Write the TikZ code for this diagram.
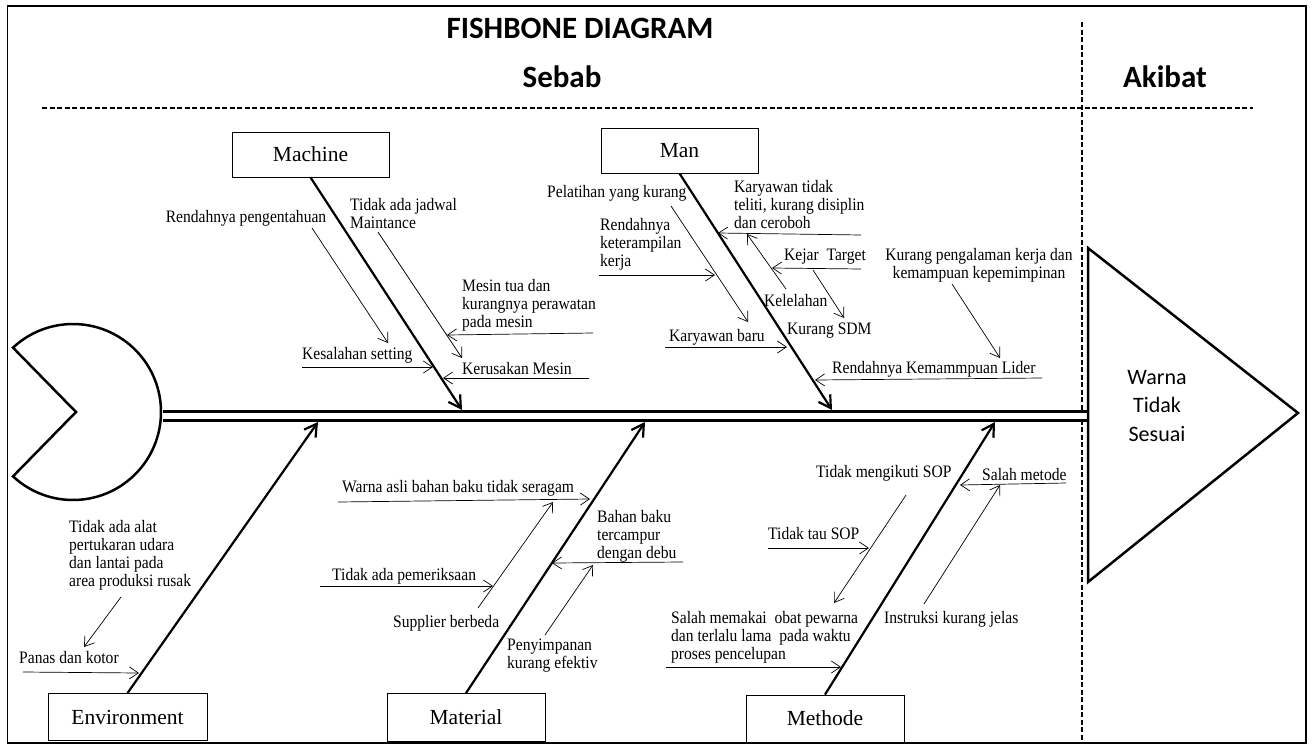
\documentclass[tikz,border=0pt]{standalone}
\usepackage{fontspec}
\setmainfont{Liberation Serif}
\newfontfamily\calibri{Carlito}
\newfontfamily\narrowserif[FakeStretch=0.89]{Liberation Serif}
\usetikzlibrary{arrows.meta, calc}
\usetikzlibrary{positioning}

\begin{document}
\begin{tikzpicture}[x=1pt, y=-1pt,
    box/.style={draw, line width=0.8pt, fill=white, minimum width=157pt, minimum height=46pt, inner sep=0pt, font=\fontsize{21.5}{24}\selectfont},
    bone/.style={line width=2.2pt, -{Straight Barb[length=12pt, width=14pt]}},
    sub/.style={line width=0.7pt, -{Straight Barb[length=9pt, width=12pt]}},
    txt/.style={inner sep=0pt, align=left, font=\narrowserif\fontsize{17.5}{18}\selectfont},
    head/.style={font=\calibri\bfseries\fontsize{31}{36}\selectfont},
    sep/.style={line width=1.4pt, dash pattern=on 5pt off 2.5pt}]
    \useasboundingbox (0,0) rectangle (1312,747);
    \draw[line width=1.8pt] (7,6) -- (1306,6) -- (1306,743) -- (7,743);
    \draw[line width=0.8pt] (7,6) -- (7,743);

    \node[head] (title) at (580,28) {FISHBONE DIAGRAM};
    \node[head] (sebab) at (562,77) {Sebab};
    \node[head] (akibat) at (1165,77) {Akibat};
    \draw[sep] (42,108) -- (1253,108);
    \draw[sep] (1082,22) -- (1082,742);

    % head, spine and tail
    \coordinate (pac) at (73,412);
    \draw[line width=2.5pt, fill=white] ($(pac)+(-133:88)$) -- (76,412) -- ($(pac)+(133:88)$) arc[start angle=133, end angle=-133, radius=88] -- cycle;
    \coordinate (spine1) at (162.5,415.5);
    \coordinate (spine2) at (1087,415.5);
    \draw[line width=3pt, double distance=6pt] (spine1) -- (spine2);
    \draw[line width=2.5pt, fill=white] (1088,248) -- (1298,413) -- (1088,582) -- cycle;
    \node[align=center, font=\calibri\fontsize{22}{28.5}\selectfont] (effect) at (1157,406) {Warna\\Tidak\\Sesuai};

    % main bones
    \node[box, minimum height=45pt] (machine) at (310.5,154.5) {Machine};
    \node[box, minimum height=45pt] (man) at (679.5,150.5) {Man};
    \node[box, minimum width=159pt, minimum height=47pt] (env) at (127.5,717) {Environment};
    \node[box, minimum width=158pt, minimum height=48pt] (material) at (466,717.5) {Material};
    \node[box, minimum width=158pt, minimum height=47pt] (methode) at (825,718.5) {Methode};
    \coordinate (mtip) at (462,410);
    \coordinate (ntip) at (832,410);
    \coordinate (etip) at (318,422);
    \coordinate (ltip) at (645,422);
    \coordinate (dtip) at (995,422);
    \draw[bone] (machine.south) -- (mtip);
    \draw[bone] (man.south) -- (ntip);
    \draw[bone] (env.north) -- (etip);
    \draw[bone] (material.north) -- (ltip);
    \draw[bone] (methode.north) -- (dtip);

    % Machine
    \node[txt, anchor=center] (rp) at (246,218) {Rendahnya pengentahuan};
    \node[txt, anchor=north west] (tj) at (350,198.5) {Tidak ada jadwal\\Maintance};
    \node[txt, anchor=north west] (mt) at (462,279.5) {Mesin tua dan\\kurangnya perawatan\\pada mesin};
    \node[txt, anchor=west] (ks) at (302,355) {Kesalahan setting};
    \node[txt, anchor=west] (km) at (462,369) {Kerusakan Mesin};
    \coordinate (rp1) at (312,228); \coordinate (rp2) at (388,343);
    \coordinate (tj1) at (378,232); \coordinate (tj2) at (462,358);
    \coordinate (mt1) at (593,333); \coordinate (mt2) at (447,335);
    \coordinate (ks1) at (302,367); \coordinate (ks2) at (433,367);
    \coordinate (km1) at (589,378); \coordinate (km2) at (443,378);
    \draw[sub] (rp1) -- (rp2);
    \draw[sub] (tj1) -- (tj2);
    \draw[sub] (mt1) -- (mt2);
    \draw[sub] (ks1) -- (ks2);
    \draw[sub] (km1) -- (km2);

    % Man
    \node[txt, anchor=west] (pk) at (547,193) {Pelatihan yang kurang};
    \node[txt, anchor=north west] (rk) at (600,218.5) {Rendahnya\\keterampilan\\kerja};
    \node[txt, anchor=north west] (kt) at (734,180.5) {Karyawan tidak\\teliti, kurang disiplin\\dan ceroboh};
    \node[txt, anchor=west] (kj) at (784,257) {Kejar~ Target};
    \node[txt, anchor=west] (kl) at (764,301) {Kelelahan};
    \node[txt, anchor=west] (sdm) at (787,331) {Kurang SDM};
    \node[txt, anchor=west] (kb) at (669,337) {Karyawan baru};
    \node[txt, align=center, anchor=north] (kp) at (979,248.5) {Kurang pengalaman kerja dan\\kemampuan kepemimpinan};
    \node[txt, anchor=west] (rl) at (832,369) {Rendahnya Kemammpuan Lider};
    \coordinate (pk1) at (671,206); \coordinate (pk2) at (748,322);
    \coordinate (rk1) at (599,275); \coordinate (rk2) at (715,275);
    \coordinate (kt1) at (861,235); \coordinate (kt2) at (718,233);
    \coordinate (kj1) at (861,269); \coordinate (kj2) at (772,268);
    \coordinate (kl1) at (786,289); \coordinate (kl2) at (747,234);
    \coordinate (sdm1) at (813,270); \coordinate (sdm2) at (844,318);
    \coordinate (kb1) at (665,347); \coordinate (kb2) at (787,347);
    \coordinate (kp1) at (952,284); \coordinate (kp2) at (1000,358);
    \coordinate (rl1) at (1042,378); \coordinate (rl2) at (815,380);
    \draw[sub] (pk1) -- (pk2);
    \draw[sub] (rk1) -- (rk2);
    \draw[sub] (kt1) -- (kt2);
    \draw[sub] (kj1) -- (kj2);
    \draw[sub] (kl1) -- (kl2);
    \draw[sub] (sdm1) -- (sdm2);
    \draw[sub] (kb1) -- (kb2);
    \draw[sub] (kp1) -- (kp2);
    \draw[sub] (rl1) -- (rl2);

    % Environment
    \node[txt, anchor=north west] (ta) at (69,520.5) {Tidak ada alat\\pertukaran udara\\dan lantai pada\\area produksi rusak};
    \node[txt, anchor=west] (pd) at (19,658) {Panas dan kotor};
    \coordinate (ta1) at (121,597); \coordinate (ta2) at (84,647);
    \coordinate (pd1) at (23,672); \coordinate (pd2) at (139,673);
    \draw[sub] (ta1) -- (ta2);
    \draw[sub] (pd1) -- (pd2);

    % Material
    \node[txt, anchor=west] (wa) at (342,488) {Warna asli bahan baku tidak seragam};
    \node[txt, anchor=west] (sb) at (393,623) {Supplier berbeda};
    \node[txt, anchor=west] (tp) at (332,576) {Tidak ada pemeriksaan};
    \node[txt, anchor=north west] (bb) at (597,510.5) {Bahan baku\\tercampur\\dengan debu};
    \node[txt, anchor=north west] (ps) at (507,638.5) {Penyimpanan\\kurang efektiv};
    \coordinate (wa1) at (338,502); \coordinate (wa2) at (590,499);
    \coordinate (sb1) at (478,608); \coordinate (sb2) at (553,502);
    \coordinate (tp1) at (320,586); \coordinate (tp2) at (493,586);
    \coordinate (bb1) at (683,562); \coordinate (bb2) at (552,563);
    \coordinate (ps1) at (545,635); \coordinate (ps2) at (593,565);
    \draw[sub] (wa1) -- (wa2);
    \draw[sub] (sb1) -- (sb2);
    \draw[sub] (tp1) -- (tp2);
    \draw[sub] (bb1) -- (bb2);
    \draw[sub] (ps1) -- (ps2);

    % Methode
    \node[txt, anchor=west] (tm) at (816,473) {Tidak mengikuti SOP};
    \node[txt, anchor=west] (sm) at (982,475) {Salah metode};
    \node[txt, anchor=west] (tt) at (768,534) {Tidak tau SOP};
    \node[txt, anchor=west] (ik) at (884,619) {Instruksi kurang jelas};
    \node[txt, anchor=north west] (sp) at (671,611.5) {Salah memakai~ obat pewarna\\dan terlalu lama~ pada waktu\\proses pencelupan};
    \coordinate (tm1) at (906,495); \coordinate (tm2) at (834,603);
    \coordinate (sm1) at (1066,483); \coordinate (sm2) at (960,485);
    \coordinate (tt1) at (768,548); \coordinate (tt2) at (869,548);
    \coordinate (ik1) at (924,604); \coordinate (ik2) at (1000,485);
    \coordinate (sp1) at (666,667); \coordinate (sp2) at (841,667);
    \draw[sub] (tm1) -- (tm2);
    \draw[sub] (sm1) -- (sm2);
    \draw[sub] (tt1) -- (tt2);
    \draw[sub] (ik1) -- (ik2);
    \draw[sub] (sp1) -- (sp2);
\end{tikzpicture}
\end{document}
